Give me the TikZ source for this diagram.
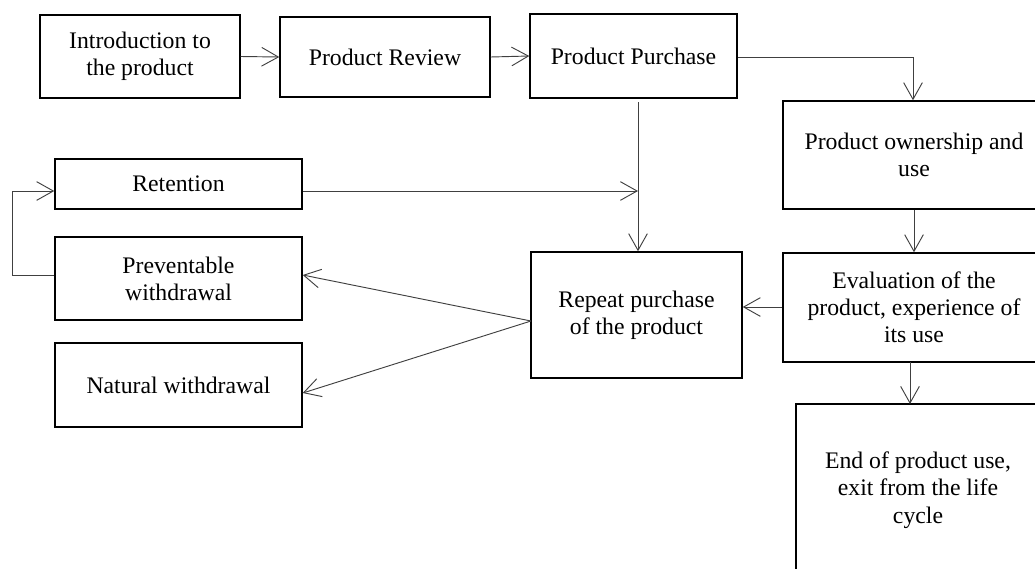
\documentclass[tikz,border=0pt]{standalone}
\usepackage{fontspec}
\setmainfont{Liberation Serif}
\usepackage{tikz}
\usetikzlibrary{arrows.meta}
\usetikzlibrary{calc}
\tikzset{>={Straight Barb[length=12.5pt,width=14pt]}}
\definecolor{linegrey}{HTML}{404040}
\tikzset{
  stage/.style={draw, line width=1.1pt, align=center, inner sep=0pt,
    font=\fontsize{17.8}{20.4}\selectfont},
  link/.style={->, draw=linegrey, line width=0.7pt}
}

\begin{document}
\begin{tikzpicture}[x=0.75pt, y=-0.75pt]
  \useasboundingbox (0,0) rectangle (1035,568);
  % top row
  \node[stage, minimum width=200*0.75pt, minimum height=83*0.75pt] (intro) at (140,56.5) {Introduction to\\the product};
  \node[stage, minimum width=210*0.75pt, minimum height=80*0.75pt] (review) at (385,57) {Product Review};
  \node[stage, minimum width=207*0.75pt, minimum height=84*0.75pt] (purchase) at (633.5,56) {Product Purchase};
  % right column
  \node[stage, minimum width=262*0.75pt, minimum height=108*0.75pt] (own) at (914,155) {Product ownership and\\use};
  \node[stage, minimum width=262*0.75pt, minimum height=109*0.75pt] (eval) at (914,307.5) {Evaluation of the\\product, experience of\\its use};
  \node[stage, minimum width=244*0.75pt, minimum height=172*0.75pt] (endu) at (918,490) {End of product use,\\exit from the life\\cycle};
  % middle and left
  \node[stage, minimum width=211*0.75pt, minimum height=126*0.75pt] (repeat) at (636.5,315) {Repeat purchase\\of the product};
  \node[stage, minimum width=247*0.75pt, minimum height=50*0.75pt] (retention) at (178.5,184) {Retention};
  \node[stage, minimum width=247*0.75pt, minimum height=83*0.75pt] (prevent) at (178.5,278.5) {Preventable\\withdrawal};
  \node[stage, minimum width=247*0.75pt, minimum height=84*0.75pt] (natural) at (178.5,385) {Natural withdrawal};
  \coordinate (turn) at (913,57);
  \coordinate (drop) at (638,102);
  \coordinate (join) at (638,191);
  \coordinate (fork) at (531,321);
  \coordinate (back) at (12,275);

  \draw[link] (intro.east) -- (review.west);
  \draw[link] (review.east) -- (purchase.west);
  \draw[link] (purchase.east |- turn) -- (turn) -- (turn |- own.north);
  \draw[link] (drop) -- (drop |- repeat.north);
  \draw[link] (retention.east |- join) -- (join);
  \draw[link] (own.south) -- (eval.north);
  \draw[link] (eval.west |- 0,307) -- (repeat.east |- 0,307);
  \draw[link] (910,362) -- (910,404);
  \draw[link] (fork) -- (prevent.east |- 0,275);
  \draw[link] (fork) -- (natural.east |- 0,393);
  \draw[link] (prevent.west |- back) -- (back) -- (back |- join) -- (retention.west |- join);
\end{tikzpicture}
\end{document}
